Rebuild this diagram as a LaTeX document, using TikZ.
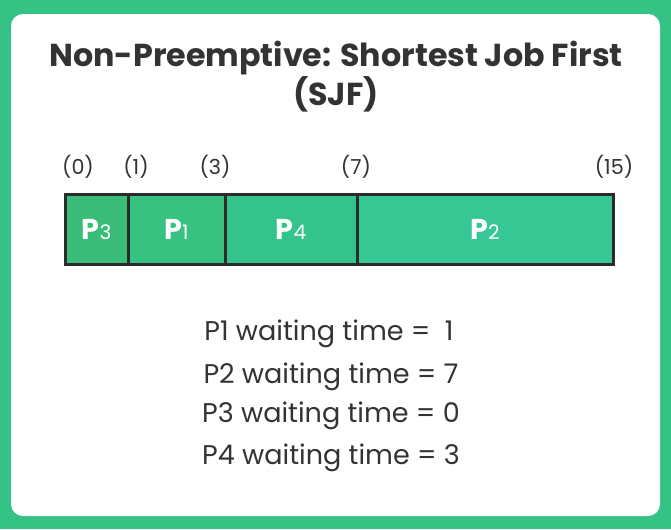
\documentclass[tikz,border=0pt]{standalone}
\usepackage{fontspec}
\setmainfont{Poppins}
\usepackage{xcolor}
\usepackage{tikz}
\usetikzlibrary{positioning}

\definecolor{frame}{HTML}{35C385}
\definecolor{ink}{HTML}{333333}
\definecolor{edge}{HTML}{2B2B2B}
\definecolor{gp3}{HTML}{3ABD79}
\definecolor{gp1}{HTML}{38C281}
\definecolor{gp4}{HTML}{34C48B}
\definecolor{gp2}{HTML}{36C794}

\tikzset{
  slot/.style={draw=edge, line width=2.25pt, minimum height=52.5pt,
    inner sep=0pt, outer sep=0pt, text=white},
  tick/.style={text=ink, font=\fontsize{15.5}{18}\selectfont},
  wait/.style={text=ink, font=\fontsize{20.3}{24}\selectfont}
}
\newcommand{\proc}[1]{{\fontsize{21.5}{24}\selectfont\bfseries P}{\fontsize{15}{17}\selectfont #1}}

\begin{document}
\begin{tikzpicture}[x=0.75pt,y=-0.75pt]

% frame %
\fill[frame] (0,0) rectangle (671,529);
\fill[white, rounded corners=9pt] (11,14) rectangle (660,516);

% title %
\node[text=ink, align=center, font=\fontsize{23.8}{29.25}\selectfont\bfseries] (title) at (336,77)
  {Non-Preemptive: Shortest Job First\\(SJF)};

% gantt bar %
\node[slot, fill=gp3, minimum width=47.25pt, anchor=west] (p3) at (65,229) {\proc{3}};
\node[slot, fill=gp1, minimum width=72.75pt, right = 0 of p3] (p1) {\proc{1}};
\node[slot, fill=gp4, minimum width=99pt, right = 0 of p1] (p4) {\proc{4}};
\node[slot, fill=gp2, minimum width=192pt, right = 0 of p4] (p2) {\proc{2}};

% times %
\node[tick] (t0) at (78,167) {(0)};
\node[tick] (t1) at (136,167) {(1)};
\node[tick] (t3) at (215,167) {(3)};
\node[tick] (t7) at (356,167) {(7)};
\node[tick] (t15) at (614,167) {(15)};

% waiting times %
\node[wait] (w1) at (329,334) {P1 waiting time =\ \ 1};
\node[wait] (w2) at (331,377) {P2 waiting time = 7};
\node[wait] (w3) at (331,416) {P3 waiting time = 0};
\node[wait] (w4) at (331,458) {P4 waiting time = 3};

\end{tikzpicture}
\end{document}
